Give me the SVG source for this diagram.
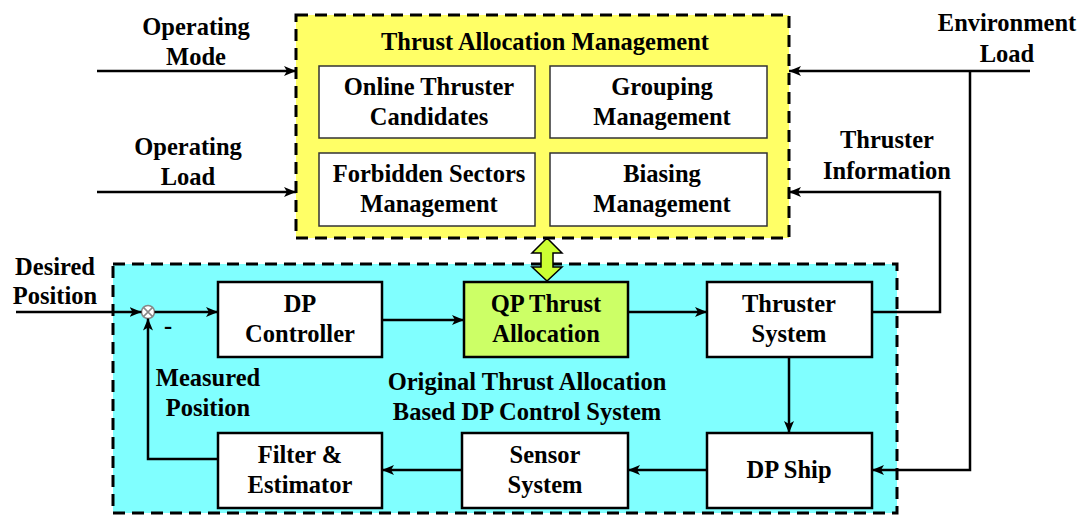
<svg xmlns="http://www.w3.org/2000/svg" width="1084" height="516" viewBox="0 0 1084 516">
<style>
text{font-family:"Liberation Serif","Times New Roman",Tinos,serif;font-weight:bold;font-size:24.5px;fill:#000;text-anchor:middle}
.box{fill:#fff;stroke:#000;stroke-width:2.5}
.ibox{fill:#fff;stroke:#333;stroke-width:1.5}
.dash{stroke:#000;stroke-width:3;stroke-dasharray:12 7;fill:none}
.ln{fill:none;stroke:#000;stroke-width:2.5}
</style>
<defs>
<marker id="ah" viewBox="0 0 12 10" refX="12" refY="5" markerWidth="12" markerHeight="10" markerUnits="userSpaceOnUse" orient="auto">
<path d="M0,0 L12,5 L0,10 L3,5 Z" fill="#000"/>
</marker>
</defs>
<rect width="1084" height="516" fill="#fff"/>
<g id="tam">
<rect x="296" y="15" width="493" height="223" fill="#ffff66"/>
<rect x="296" y="15" width="493" height="223" class="dash"/>
<text x="545" y="50">Thrust Allocation Management</text>
</g>
<g id="online"><rect class="ibox" x="319" y="66" width="216" height="72"/><text x="429" y="95">Online Thruster</text><text x="429" y="125">Candidates</text></g>
<g id="grouping"><rect class="ibox" x="550" y="66" width="217" height="72"/><text x="662" y="95">Grouping</text><text x="662" y="125">Management</text></g>
<g id="forbidden"><rect class="ibox" x="319" y="153" width="216" height="73"/><text x="429" y="182">Forbidden Sectors</text><text x="429" y="212">Management</text></g>
<g id="biasing"><rect class="ibox" x="550" y="153" width="217" height="73"/><text x="662" y="182">Biasing</text><text x="662" y="212">Management</text></g>
<g id="dpsys">
<rect x="113" y="264" width="784" height="249" fill="#80ffff"/>
<rect x="113" y="264" width="784" height="249" class="dash"/>
<text x="527" y="390">Original Thrust Allocation</text>
<text x="527" y="420">Based DP Control System</text>
</g>
<g id="dpcontroller"><rect class="box" x="218" y="282" width="164" height="75"/><text x="300" y="312">DP</text><text x="300" y="342">Controller</text></g>
<g id="qp"><rect x="464" y="282" width="164" height="75" fill="#ccff66" stroke="#000" stroke-width="2.5"/><text x="546" y="312">QP Thrust</text><text x="546" y="342">Allocation</text></g>
<g id="thruster"><rect class="box" x="707" y="282" width="165" height="75"/><text x="789" y="312">Thruster</text><text x="789" y="342">System</text></g>
<g id="dpship"><rect class="box" x="707" y="433" width="165" height="75"/><text x="789" y="478">DP Ship</text></g>
<g id="sensor"><rect class="box" x="462" y="433" width="166" height="75"/><text x="545" y="463">Sensor</text><text x="545" y="493">System</text></g>
<g id="filter"><rect class="box" x="218" y="433" width="164" height="75"/><text x="300" y="463">Filter &amp;</text><text x="300" y="493">Estimator</text></g>
<g id="sum">
<circle cx="148" cy="312" r="6.5" fill="#fff" stroke="#888" stroke-width="1.5"/>
<path d="M143.4,307.4 L152.6,316.6 M152.6,307.4 L143.4,316.6" stroke="#888" stroke-width="1.5"/>
</g>
<g id="labels">
<text x="196" y="35">Operating</text><text x="196" y="65">Mode</text>
<text x="188" y="155">Operating</text><text x="188" y="185">Load</text>
<text x="55" y="275">Desired</text><text x="55" y="304">Position</text>
<text x="208" y="386">Measured</text><text x="208" y="416">Position</text>
<text x="168" y="334">-</text>
<text x="1007" y="31">Environment</text><text x="1007" y="62">Load</text>
<text x="887" y="148">Thruster</text><text x="887" y="179">Information</text>
</g>
<g id="connectors">
<line class="ln" x1="97" y1="71" x2="296" y2="71" marker-end="url(#ah)"/>
<line class="ln" x1="97" y1="192" x2="296" y2="192" marker-end="url(#ah)"/>
<line class="ln" x1="1030" y1="71" x2="789" y2="71" marker-end="url(#ah)"/>
<polyline class="ln" points="970,71 970,470 872,470" marker-end="url(#ah)"/>
<polyline class="ln" points="872,312 940,312 940,192 789,192" marker-end="url(#ah)"/>
<line class="ln" x1="16" y1="312" x2="141.5" y2="312" marker-end="url(#ah)"/>
<line class="ln" x1="154.5" y1="312" x2="218" y2="312" marker-end="url(#ah)"/>
<line class="ln" x1="382" y1="320" x2="464" y2="320" marker-end="url(#ah)"/>
<line class="ln" x1="628" y1="312" x2="707" y2="312" marker-end="url(#ah)"/>
<line class="ln" x1="789" y1="357" x2="789" y2="433" marker-end="url(#ah)"/>
<line class="ln" x1="707" y1="470" x2="628" y2="470" marker-end="url(#ah)"/>
<line class="ln" x1="462" y1="470" x2="382" y2="470" marker-end="url(#ah)"/>
<polyline class="ln" points="218,459 148,459 148,318.5" marker-end="url(#ah)"/>
<path d="M547,238 L562,253 L553,253 L553,267 L562,267 L547,281 L532,267 L541,267 L541,253 L532,253 Z" fill="#ccff33" stroke="#000" stroke-width="1.5"/>
</g>
</svg>
